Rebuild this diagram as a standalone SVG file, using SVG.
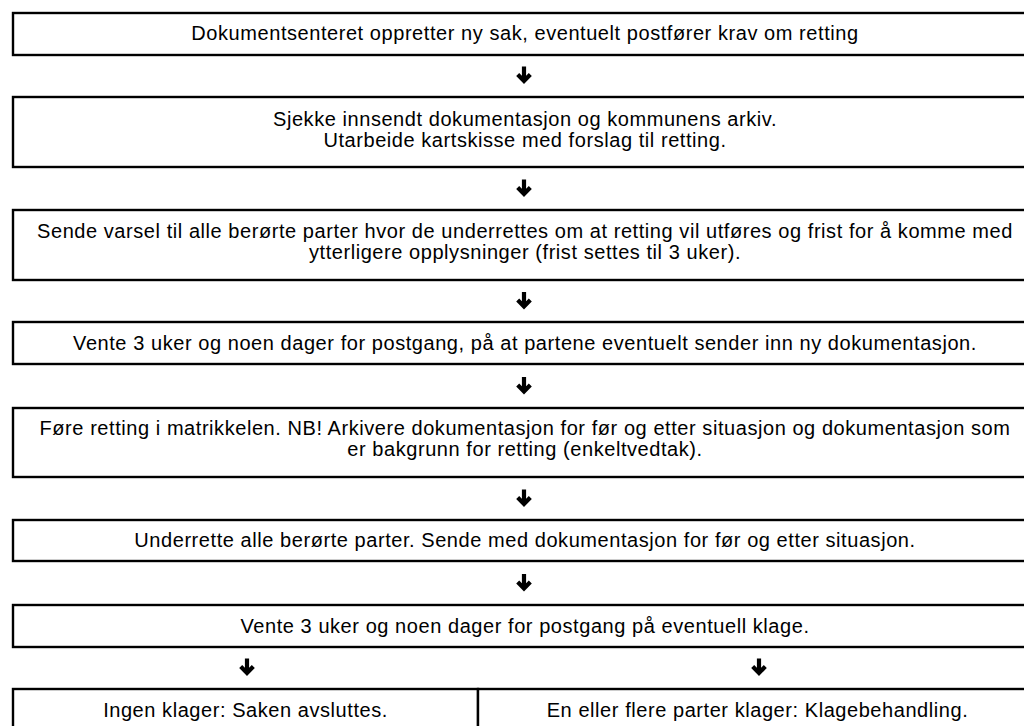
<svg xmlns="http://www.w3.org/2000/svg" width="1024" height="726" viewBox="0 0 1024 726">
<defs>
<style>
.box{fill:#fff;stroke:#000;stroke-width:2.4}
.t{font-family:"Liberation Sans",Arial,Helvetica,sans-serif;font-size:20px;letter-spacing:0.56px;fill:#000;text-anchor:middle}
.arr{fill:none;stroke:#000;stroke-width:4.2}
</style>
<g id="arrowGlyph"><path class="arr" d="M0,-8 V6 M-6.3,0 L0,6.5 L6.3,0"/></g>
</defs>
<rect width="1024" height="726" fill="#fff"/>
<g id="n1"><rect class="box" x="13" y="13" width="1024" height="42"/><text class="t" x="525" y="40">Dokumentsenteret oppretter ny sak, eventuelt postfører krav om retting</text></g>
<g id="n2"><rect class="box" x="13" y="97" width="1024" height="70"/><text class="t" x="525" y="126">Sjekke innsendt dokumentasjon og kommunens arkiv.</text><text class="t" x="525" y="146.5">Utarbeide kartskisse med forslag til retting.</text></g>
<g id="n3"><rect class="box" x="13" y="210" width="1024" height="70"/><text class="t" x="525" y="238">Sende varsel til alle berørte parter hvor de underrettes om at retting vil utføres og frist for å komme med</text><text class="t" x="525" y="258.5">ytterligere opplysninger (frist settes til 3 uker).</text></g>
<g id="n4"><rect class="box" x="13" y="322" width="1024" height="42"/><text class="t" x="525" y="350">Vente 3 uker og noen dager for postgang, på at partene eventuelt sender inn ny dokumentasjon.</text></g>
<g id="n5"><rect class="box" x="13" y="408" width="1024" height="69"/><text class="t" x="525" y="435">Føre retting i matrikkelen. NB! Arkivere dokumentasjon for før og etter situasjon og dokumentasjon som</text><text class="t" x="525" y="455.5">er bakgrunn for retting (enkeltvedtak).</text></g>
<g id="n6"><rect class="box" x="13" y="520" width="1024" height="41"/><text class="t" x="525" y="547">Underrette alle berørte parter. Sende med dokumentasjon for før og etter situasjon.</text></g>
<g id="n7"><rect class="box" x="13" y="605" width="1024" height="42"/><text class="t" x="525" y="633">Vente 3 uker og noen dager for postgang på eventuell klage.</text></g>
<g id="n8a"><rect class="box" x="13" y="689" width="465" height="42"/><text class="t" x="245.5" y="717">Ingen klager: Saken avsluttes.</text></g>
<g id="n8b"><rect class="box" x="478" y="689" width="559" height="42"/><text class="t" x="757.5" y="717">En eller flere parter klager: Klagebehandling.</text></g>
<g id="connectors">
<use href="#arrowGlyph" x="524" y="74.5"/>
<use href="#arrowGlyph" x="524" y="187.5"/>
<use href="#arrowGlyph" x="524" y="300"/>
<use href="#arrowGlyph" x="524" y="385"/>
<use href="#arrowGlyph" x="524" y="497.5"/>
<use href="#arrowGlyph" x="524" y="582"/>
<use href="#arrowGlyph" x="247" y="666.5"/>
<use href="#arrowGlyph" x="759" y="666.5"/>
</g>
</svg>
